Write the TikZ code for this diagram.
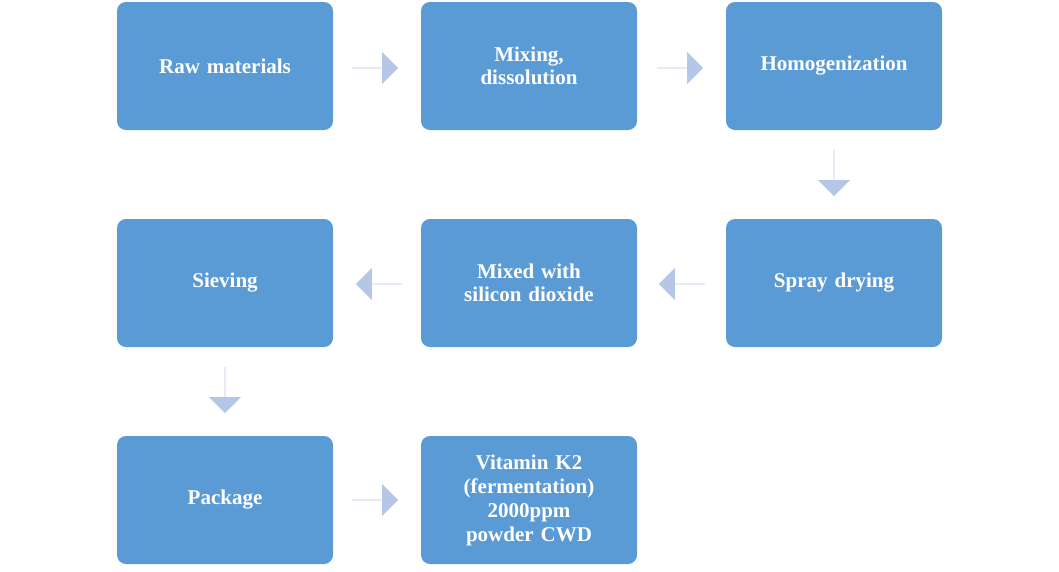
\documentclass[tikz,border=0pt]{standalone}
\usepackage{fontspec}
\setmainfont{Liberation Serif}
\usetikzlibrary{shapes.arrows}
\definecolor{boxblue}{HTML}{5B9BD5}
\definecolor{arrblue}{HTML}{B4C7E7}
\begin{document}
\begin{tikzpicture}[x=1pt,y=-1pt,
  box/.style={fill=boxblue,draw=none,rounded corners=9pt,minimum width=216pt,minimum height=128pt,
    text=white,font=\fontsize{21}{23}\selectfont\bfseries,align=center,inner sep=4pt,text width=200pt},
  arr/.style={single arrow,fill=arrblue,draw=none,minimum height=46pt,minimum width=32pt,
    single arrow head extend=7pt,inner sep=0pt}]
\useasboundingbox (0,0) rectangle (1059,571);
\node[box] (a) at (225,66) {Raw materials};
\node[box] (b) at (529,66) {Mixing,\\dissolution};
\node[box] (c) at (834,66) {Homogenization};
\node[box] (d) at (834,283) {Spray drying};
\node[box] (e) at (529,283) {Mixed with\\silicon dioxide};
\node[box] (f) at (225,283) {Sieving};
\node[box] (g) at (225,500) {Package};
\node[box,font=\fontsize{21}{24}\selectfont\bfseries] (h) at (529,500) {Vitamin K2\\(fermentation)\\2000ppm\\powder CWD};
\node[arr] (ab) at (375,68) {};
\node[arr] (bc) at (680,68) {};
\node[arr,shape border rotate=270] (cd) at (834,173) {};
\node[arr,shape border rotate=180] (de) at (682,284) {};
\node[arr,shape border rotate=180] (ef) at (379,284) {};
\node[arr,shape border rotate=270] (fg) at (225,390) {};
\node[arr] (gh) at (375,500) {};
\end{tikzpicture}
\end{document}
